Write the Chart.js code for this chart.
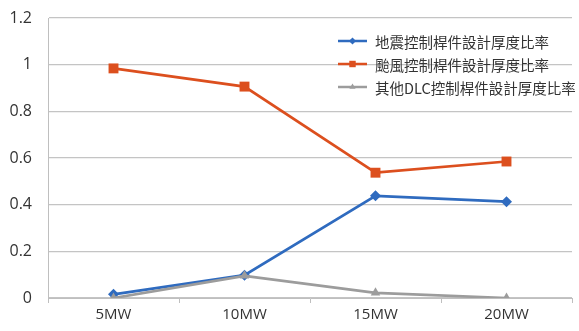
<!DOCTYPE html>
<html>
<head>
<meta charset="utf-8">
<script src="https://cdn.jsdelivr.net/npm/chart.js@4"></script>
<style>
  html, body { margin: 0; padding: 0; background: #fff; }
  #wrap { width: 579px; height: 331px; }
</style>
</head>
<body>
<div id="wrap"><canvas id="ratioChart" width="579" height="331"></canvas></div>
<script>
const turbines = ["5MW", "10MW", "15MW", "20MW"];
const quakeRatio = [0.016, 0.098, 0.438, 0.413];
const typhoonRatio = [0.984, 0.906, 0.537, 0.585];
const otherDlcRatio = [0.0, 0.095, 0.022, 0.0];
const yTicks = [0, 0.2, 0.4, 0.6, 0.8, 1, 1.2];

const seriesNames = ["地震控制桿件設計厚度比率", "颱風控制桿件設計厚度比率", "其他DLC控制桿件設計厚度比率"];
const seriesColors = ["#2f6bbf", "#dc4f1e", "#9c9c9c"];
const markers = ["rectRot", "rect", "triangle"];
const markerSizes = [5.5, 7, 5.5];
const drawOrder = [1, 2, 0]; // gray sits on top where it meets the blue line

// legend drawn inside the plot, top right, with a short line + marker sample
const insideLegend = {
  id: "insideLegend",
  afterDatasetsDraw(chart) {
    const ctx = chart.ctx;
    const area = chart.chartArea;
    const x0 = 338;
    ctx.save();
    ctx.font = "14.5px 'Noto Sans CJK TC'";
    ctx.textBaseline = "middle";
    chart.data.datasets.forEach((ds, i) => {
      const y = area.top + 23 + i * 23;
      ctx.strokeStyle = ds.borderColor;
      ctx.lineWidth = 2.5;
      ctx.beginPath();
      ctx.moveTo(x0, y);
      ctx.lineTo(x0 + 29, y);
      ctx.stroke();
      ctx.fillStyle = ds.borderColor;
      Chart.helpers.drawPoint(ctx, { pointStyle: ds.pointStyle, radius: ds.pointRadius * 0.65, borderWidth: 0 }, x0 + 14.5, y);
      ctx.fillStyle = "#333";
      ctx.fillText(ds.label, x0 + 37, y + 1);
    });
    ctx.restore();
  }
};

const datasets = [quakeRatio, typhoonRatio, otherDlcRatio].map((vals, i) => ({
  label: seriesNames[i],
  data: vals,
  order: drawOrder[i],
  borderColor: seriesColors[i],
  backgroundColor: seriesColors[i],
  borderWidth: 2.75,
  pointStyle: markers[i],
  pointRadius: markerSizes[i],
  pointBorderWidth: 0,
  tension: 0
}));

new Chart(document.getElementById("ratioChart"), {
  type: "line",
  data: { labels: turbines, datasets: datasets },
  plugins: [insideLegend],
  options: {
    responsive: false,
    animation: false,
    layout: { padding: 0 },
    plugins: { legend: { display: false }, tooltip: { enabled: false } },
    scales: {
      x: {
        offset: true,
        afterFit(scale) {
          scale.height = 33;
          scale.paddingLeft = 0;
          scale.paddingRight = 2;
        },
        grid: { offset: true, drawOnChartArea: false, drawTicks: true, tickLength: 5, color: "#bfbfbf" },
        border: { color: "#bfbfbf" },
        ticks: { color: "#333", font: { family: "'Open Sans'", size: 15 }, padding: 3 }
      },
      y: {
        min: 0,
        max: 1.2,
        afterFit(scale) {
          scale.width = 48;
          scale.paddingTop = 18;
          scale.paddingBottom = 0;
        },
        afterBuildTicks(scale) { scale.ticks = yTicks.map(v => ({ value: v })); },
        grid: { color: "#c4c4c4", drawTicks: false, lineWidth: 1.2 },
        border: { color: "#bfbfbf" },
        ticks: { color: "#333", font: { family: "'Open Sans'", size: 16 }, padding: 16, callback: v => String(v) }
      }
    }
  }
});
</script>
</body>
</html>
